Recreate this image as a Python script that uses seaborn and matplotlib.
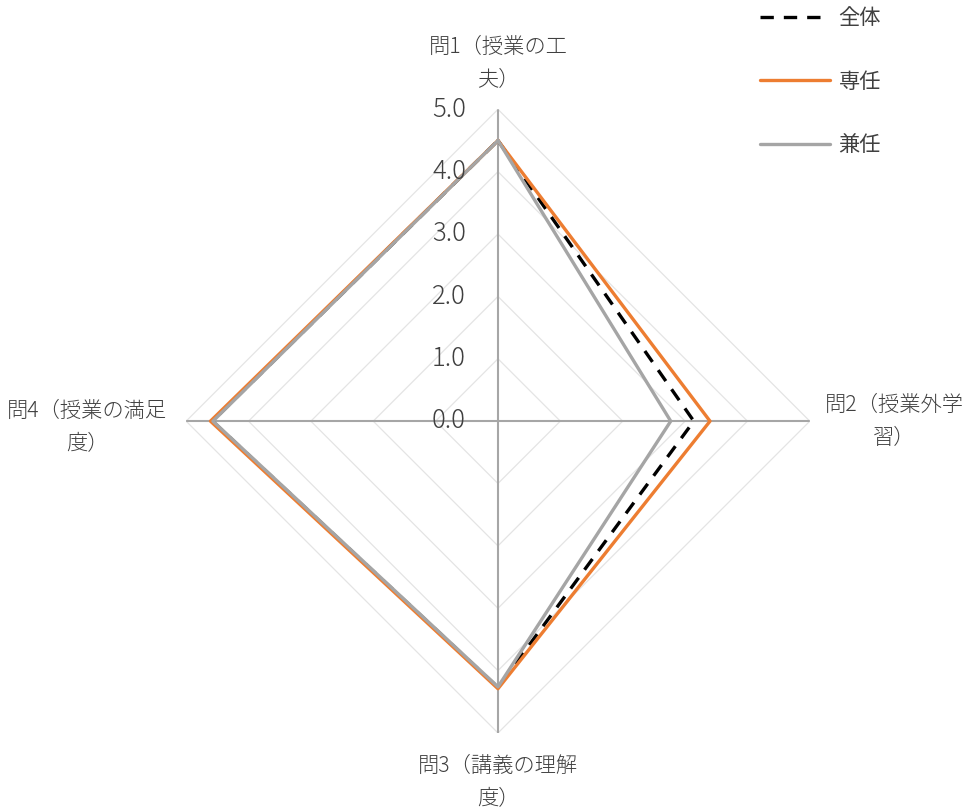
import numpy as np
import pandas as pd
import matplotlib.pyplot as plt
import seaborn as sns

categories = ["問1（授業の工\n夫）", "問2（授業外学\n習）", "問3（講義の理解\n度）", "問4（授業の満足\n度）"]
series_names = ["全体", "専任", "兼任"]
zentai = [4.5, 3.14, 4.27, 4.58]
senin = [4.5, 3.4, 4.29, 4.61]
kennin = [4.5, 2.77, 4.26, 4.57]
r_ticks = [0.0, 1.0, 2.0, 3.0, 4.0, 5.0]

colors = {"全体": "#000000", "専任": "#ED7D31", "兼任": "#A5A5A5"}
dashes = {"全体": (4, 3), "専任": "", "兼任": ""}

sns.set_theme(style="white")
plt.rcParams["font.family"] = ["Noto Sans CJK JP", "DejaVu Sans"]

angles = np.linspace(0, 2 * np.pi, len(categories), endpoint=False)
closed = np.append(angles, 2 * np.pi)

rows = []
for name, vals in zip(series_names, [zentai, senin, kennin]):
    for th, v in zip(closed, vals + vals[:1]):
        rows.append({"theta": th, "value": v, "系列": name})
df = pd.DataFrame(rows)

fig = plt.figure(figsize=(9.66, 8.11), dpi=100)
ax = fig.add_axes([0.1925, 0.0962, 0.646, 0.769], projection="polar")
ax.set_theta_offset(np.pi / 2)
ax.set_theta_direction(-1)
ax.set_ylim(0, 5)
ax.grid(False)
ax.spines["polar"].set_visible(False)
ax.set_xticks([])
ax.set_yticks([])

# diamond grid and spokes
for lvl in r_ticks[1:]:
    ax.plot(closed, [lvl] * len(closed), color="#E4E4E4", lw=0.9, zorder=1)
for a in angles:
    ax.plot([a, a], [0, r_ticks[-1]], color="#A6A6A6", lw=1.5, zorder=2)

sns.lineplot(data=df, x="theta", y="value", hue="系列", style="系列",
             palette=colors, dashes=dashes, sort=False, estimator=None,
             linewidth=2.4, ax=ax, legend=False, zorder=3)
ax.set_xlabel("")
ax.set_ylabel("")

for v in r_ticks:
    ax.annotate(f"{v:.1f}", xy=(0, v), xytext=(-32, 0), textcoords="offset pixels",
                ha="right", va="center", fontsize=18.5, color="#404040",
                fontweight="light")

label_pos = [
    dict(xytext=(0, 18), ha="center", va="bottom"),
    dict(xytext=(15, 0), ha="left", va="center"),
    dict(xytext=(0, -22), ha="center", va="top"),
    dict(xytext=(-19, -6), ha="right", va="center"),
]
for a, lab, pos in zip(angles, categories, label_pos):
    ax.annotate(lab, xy=(a, r_ticks[-1]), textcoords="offset pixels",
                multialignment="center", fontsize=15.3, linespacing=1.65,
                color="#404040", fontweight="light", **pos)

handles = [plt.Line2D([], [], color=colors[n], lw=2.4,
                      linestyle=(0, dashes[n]) if dashes[n] else "-") for n in series_names]
fig.legend(handles, series_names, loc="upper left", bbox_to_anchor=(760 / 966, 0.991),
           frameon=False, borderpad=0, borderaxespad=0, handlelength=3.3,
           handletextpad=0.4, labelspacing=1.95, fontsize=15.3, labelcolor="#404040")

fig.savefig("out.png", dpi=100)
